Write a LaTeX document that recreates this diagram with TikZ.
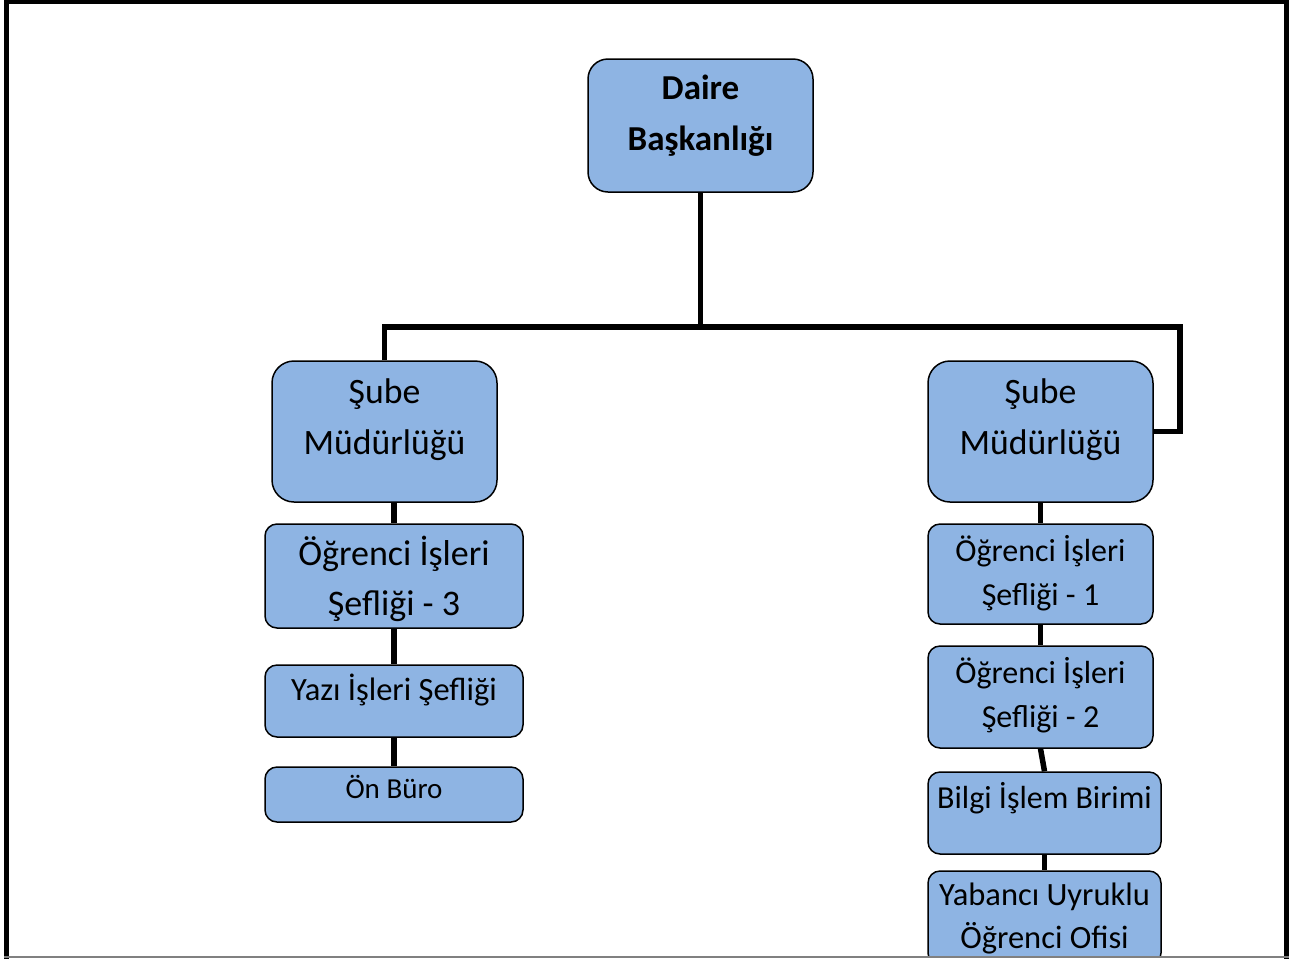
\documentclass[tikz,border=0pt]{standalone}
\usepackage{fontspec}
\setmainfont{Carlito}
\definecolor{boxblue}{RGB}{142,180,227}
\newcommand{\twoline}[2]{\begin{tabular}[b]{@{}c@{}}#1\\#2\end{tabular}}
\begin{document}
\begin{tikzpicture}[x=1pt, y=-1pt,
    unit/.style={draw, line width=1.5pt, fill=boxblue, rounded corners=12pt, inner sep=0pt},
    big/.style={unit, rounded corners=22pt, minimum width=225pt, minimum height=141pt, font=\fontsize{35.7}{51}\selectfont, text height=45pt, text depth=0pt},
    conn/.style={line width=5.5pt}]
  \useasboundingbox (0,0) rectangle (1289,959);

  \node[unit, rounded corners=20pt, minimum width=225pt, minimum height=133pt, font=\bfseries\fontsize{35}{51}\selectfont, text height=49pt, text depth=0pt] (daire) at (700.5,125.5) {\twoline{Daire}{Başkanlığı}};
  \node[big] (subeL) at (384.5,431.5) {\twoline{Şube}{Müdürlüğü}};
  \node[big] (subeR) at (1040.5,431.5) {\twoline{Şube}{Müdürlüğü}};

  % left column
  \node[unit, minimum width=258pt, minimum height=104pt, font=\fontsize{36}{50}\selectfont, text height=78pt, text depth=0pt] (sef3) at (394,576) {\twoline{Öğrenci İşleri}{Şefliği - 3}};
  \node[unit, minimum width=258pt, minimum height=72pt, font=\fontsize{32.5}{39}\selectfont, text height=0pt, text depth=2pt] (yazi) at (394,701) {Yazı İşleri Şefliği};
  \node[unit, minimum width=258pt, minimum height=55pt, font=\fontsize{29}{35}\selectfont, text height=7pt, text depth=0pt] (onburo) at (394,794.5) {Ön Büro};

  % right column
  \node[unit, minimum width=225pt, minimum height=100pt, font=\fontsize{32}{44}\selectfont, text height=62pt, text depth=0pt] (sef1) at (1040.5,574) {\twoline{Öğrenci İşleri}{Şefliği - 1}};
  \node[unit, minimum width=225pt, minimum height=102pt, font=\fontsize{32}{44}\selectfont, text height=60pt, text depth=0pt] (sef2) at (1040.5,697) {\twoline{Öğrenci İşleri}{Şefliği - 2}};
  \node[unit, minimum width=233pt, minimum height=82pt, font=\fontsize{32}{40}\selectfont, text height=0pt, text depth=10pt] (bilgi) at (1044.5,813) {Bilgi İşlem Birimi};
  \begin{scope}
    \clip (0,0) rectangle (1289,956);
    \node[unit, minimum width=233pt, minimum height=94pt, font=\fontsize{32.5}{43}\selectfont, text height=60pt, text depth=0pt] (yabanci) at (1044.5,918) {\twoline{Yabancı Uyruklu}{Öğrenci Ofisi}};
  \end{scope}

  % connectors
  \coordinate (jn) at (700.5,327);
  \coordinate (rc) at (1180,327);
  \draw[conn] (daire.south) -- (jn);
  \draw[conn] (subeL.north) |- (rc) |- (subeR.east);
  \draw[conn] (sef3.north |- subeL.south) -- (sef3.north);
  \draw[conn] (sef3.south) -- (yazi.north);
  \draw[conn] (yazi.south) -- (onburo.north);
  \draw[conn] (subeR.south) -- (sef1.north);
  \draw[conn] (sef1.south) -- (sef2.north);
  \draw[conn] (sef2.south) -- (bilgi.north);
  \draw[conn] (bilgi.south) -- (yabanci.north);

  % frame
  \draw[line width=5pt] (6.5,959) -- (6.5,1.5) -- (1286.5,1.5) -- (1286.5,959);
  \draw[line width=2pt, gray] (4,957) -- (1289,957);
\end{tikzpicture}
\end{document}
